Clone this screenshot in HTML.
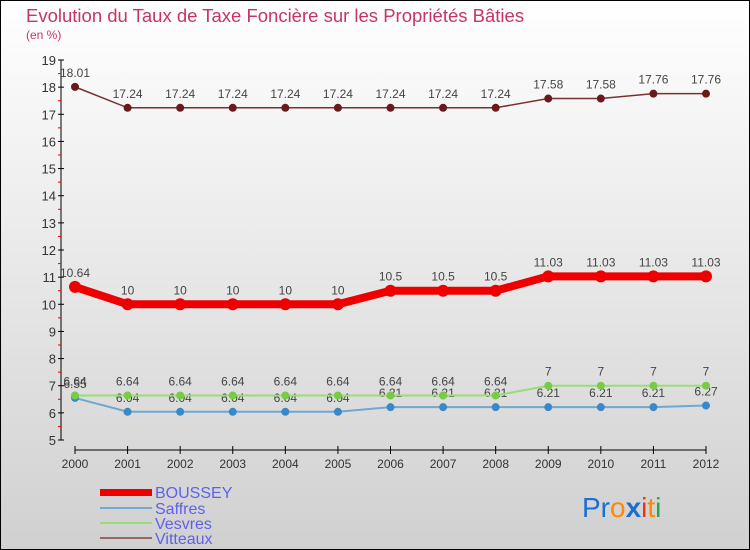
<!DOCTYPE html>
<html><head><meta charset="utf-8"><style>
body{margin:0;}
#c{width:750px;height:550px;position:relative;overflow:hidden;}
svg text{font-family:"Liberation Sans",sans-serif;}
</style></head><body>
<div id="c">
<svg id="s" width="750" height="550" xmlns="http://www.w3.org/2000/svg">
<defs><linearGradient id="bg" x1="0" y1="0" x2="0" y2="1"><stop offset="0" stop-color="#ffffff"/><stop offset="1" stop-color="#d0d0d0"/></linearGradient></defs>
<rect x="0.5" y="0.5" width="749" height="549" fill="url(#bg)" stroke="#000"/>
<text x="26" y="22" font-size="18.5" fill="#c8336a">Evolution du Taux de Taxe Foncière sur les Propriétés Bâties</text>
<text x="26" y="39" font-size="12" fill="#c8336a">(en %)</text>
<g id="axes"></g>
<g id="series"></g>
<g>
<rect x="100" y="489" width="52" height="7" fill="#e00"/>
<text x="155" y="498" font-size="16" fill="#6060ee">BOUSSEY</text>
<line x1="100" y1="508" x2="152" y2="508" stroke="#6fa8d0" stroke-width="2"/>
<text x="155" y="514" font-size="16" fill="#6060ee">Saffres</text>
<line x1="100" y1="523" x2="152" y2="523" stroke="#99dd77" stroke-width="2"/>
<text x="155" y="529" font-size="16" fill="#6060ee">Vesvres</text>
<line x1="100" y1="538" x2="152" y2="538" stroke="#996666" stroke-width="2"/>
<text x="155" y="544" font-size="16" fill="#6060ee">Vitteaux</text>
</g>
<g font-size="28" font-family="Liberation Sans,sans-serif">
<text x="582" y="517" fill="#1a6fd0">Pr<tspan fill="#ff8800">o</tspan><tspan fill="#1a6fd0" font-weight="bold">x</tspan><tspan fill="#ee3311">i</tspan><tspan fill="#ff8800">t</tspan><tspan fill="#22aa44">i</tspan></text>
</g>
</svg>
</div>
<script>
const years=[2000,2001,2002,2003,2004,2005,2006,2007,2008,2009,2010,2011,2012];
const boussey=[10.64,10,10,10,10,10,10.5,10.5,10.5,11.03,11.03,11.03,11.03];
const saffres=[6.55,6.04,6.04,6.04,6.04,6.04,6.21,6.21,6.21,6.21,6.21,6.21,6.27];
const vesvres=[6.64,6.64,6.64,6.64,6.64,6.64,6.64,6.64,6.64,7,7,7,7];
const vitteaux=[18.01,17.24,17.24,17.24,17.24,17.24,17.24,17.24,17.24,17.58,17.58,17.76,17.76];
const yTicks=[5,6,7,8,9,10,11,12,13,14,15,16,17,18,19];
const NS="http://www.w3.org/2000/svg";
const X=i=>75+i*(706-75)/(years.length-1);
const Y=v=>440-(v-5)*(380/14);
function mk(t,a,p){const e=document.createElementNS(NS,t);for(const k in a)e.setAttribute(k,a[k]);p.appendChild(e);return e;}
const ax=document.getElementById('axes'),sg=document.getElementById('series');
let l=mk('line',{x1:61,y1:Y(19),x2:61,y2:Y(5),stroke:'#000'},ax);


l=mk('line',{x1:X(0),y1:450,x2:X(12),y2:450,stroke:'#000'},ax);


yTicks.forEach(v=>{mk('line',{x1:58,y1:Y(v),x2:64,y2:Y(v),stroke:'#000'},ax);
 if(v<19)mk('line',{x1:58,y1:Y(v+0.5),x2:61,y2:Y(v+0.5),stroke:'#e00'},ax);
 const t=mk('text',{x:56,y:Y(v)+5,'font-size':13,'text-anchor':'end',fill:'#333'},ax);t.textContent=v;
 
 });
years.forEach((y,i)=>{mk('line',{x1:X(i),y1:446,x2:X(i),y2:454,stroke:'#000'},ax);
 const t=mk('text',{x:X(i),y:468,'font-size':12,'text-anchor':'middle',fill:'#333'},ax);t.textContent=y;
 
 });
function series(d,name,color,w,r,dot){
 const p=mk('polyline',{points:d.map((v,i)=>X(i)+','+Y(v)).join(' '),fill:'none',stroke:color,'stroke-width':w},sg);
 
 
 d.forEach((v,i)=>{const c=mk('circle',{cx:X(i),cy:Y(v),r:r,fill:dot},sg);
  
  
  const t=mk('text',{x:X(i),y:Y(v)-10,'font-size':12,'text-anchor':'middle',fill:'#444'},sg);t.textContent=v;
  
  });
}
series(vitteaux,'vitteaux','#7a3030',1.5,4,'#6a1a1a');
series(saffres,'saffres','#6fa8d0',2,4,'#3a88c8');
series(vesvres,'vesvres','#99dd77',2,4,'#77cc44');
series(boussey,'boussey','#ee0000',8,6,'#ee0000');
</script>
</body></html>
